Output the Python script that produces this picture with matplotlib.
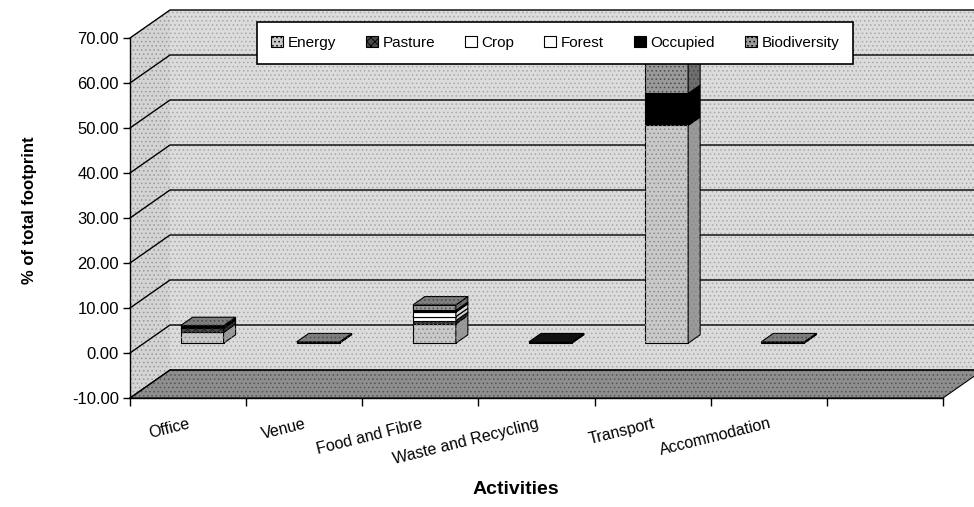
import matplotlib
matplotlib.use('Agg')
import matplotlib.pyplot as plt
from matplotlib.patches import Polygon, Patch
import numpy as np

plt.rcParams['font.family'] = ['Liberation Sans', 'DejaVu Sans']
plt.rcParams['hatch.linewidth'] = 0.6

# ---------------- data ----------------
categories = ['Office', 'Venue', 'Food and Fibre', 'Waste and Recycling',
              'Transport', 'Accommodation', '']
series_names = ['Energy', 'Pasture', 'Crop', 'Forest', 'Occupied', 'Biodiversity']
energy = [2.4, 0.2, 4.3, 0.0, 48.4, 0.2, 0.0]
pasture = [0.9, 0.0, 0.7, 0.0, 0.0, 0.0, 0.0]
crop = [0.2, 0.0, 0.9, 0.0, 0.0, 0.0, 0.0]
forest = [0.0, 0.0, 1.0, 0.0, 0.0, 0.0, 0.0]
occupied = [0.1, 0.0, 0.4, 0.3, 7.1, 0.0, 0.0]
biodiversity = [0.3, 0.1, 1.2, 0.0, 8.6, 0.1, 0.0]
y_ticks = [-10, 0, 10, 20, 30, 40, 50, 60, 70]
y_tick_labels = ['-10.00', '0.00', '10.00', '20.00', '30.00', '40.00',
                 '50.00', '60.00', '70.00']

series = [energy, pasture, crop, forest, occupied, biodiversity]
# (front, side, top, hatch, hatch colour)
styles = [
    ('#c9c9c9', '#9a9a9a', '#b4b4b4', '....', '#8a8a8a'),
    ('#4a4a4a', '#303030', '#3c3c3c', 'xxxx', '#1a1a1a'),
    ('#ffffff', '#cfcfcf', '#e6e6e6', None, None),
    ('#ffffff', '#d8d8d8', '#eeeeee', None, None),
    ('#000000', '#000000', '#111111', None, None),
    ('#9a9a9a', '#6e6e6e', '#7d7d7d', '....', '#4a4a4a'),
]

W, H = 974, 507
fig = plt.figure(figsize=(W / 100, H / 100), dpi=100)
ax = fig.add_axes([130 / W, (H - 398) / H, 813 / W, 360 / H])
n = len(categories)
ax.set_xlim(0, n)
ax.set_ylim(-10, 70)
ax.patch.set_visible(False)

# 3D depth offsets (in data units)
dx = 40 / (813 / n)
dy = 28 / 4.5


def hpoly(pts, fc, hatch=None, hc=None, z=0.5, ec='none', lw=0):
    ax.add_patch(Polygon(pts, closed=True, facecolor=fc, edgecolor=ec,
                         linewidth=lw, clip_on=False, zorder=z))
    if hatch:
        ax.add_patch(Polygon(pts, closed=True, fill=False, edgecolor=hc,
                             linewidth=0, hatch=hatch, clip_on=False, zorder=z + 0.01))


x0, x1 = 0, n
ymin, ymax = -10, 70
# back wall
hpoly([(x0 + dx, ymin + dy), (x1 + dx, ymin + dy), (x1 + dx, ymax + dy), (x0 + dx, ymax + dy)],
      '#dcdcdc', '....', '#a8a8a8', z=0.1)
# left side wall
hpoly([(x0, ymin), (x0, ymax), (x0 + dx, ymax + dy), (x0 + dx, ymin + dy)],
      '#d4d4d4', '....', '#999999', z=0.15)
# floor
hpoly([(x0, ymin), (x1, ymin), (x1 + dx, ymin + dy), (x0 + dx, ymin + dy)],
      '#8e8e8e', '....', '#555555', z=0.2, ec='black', lw=0.8)
# gridlines
for v in y_ticks:
    ax.plot([x0, x0 + dx, x1 + dx], [v, v + dy, v + dy], color='black', lw=1.0,
            clip_on=False, zorder=0.3)

# bars
w = 0.37
f0, f1 = 0.35, 0.65
ddx, ddy = (f1 - f0) * dx, (f1 - f0) * dy
vals = np.array(series)
cum = np.vstack([np.zeros(n), np.cumsum(vals, axis=0)])
for i in range(n):
    xl = i + 0.5 - w / 2 + f0 * dx
    nz = [k for k in range(len(series)) if vals[k, i] > 0]
    if not nz:
        continue
    for k in nz:
        b = cum[k, i] + f0 * dy
        t = cum[k + 1, i] + f0 * dy
        fc, sc, tc, hat, hc = styles[k]
        ax.bar(xl, t - b, bottom=b, width=w, align='edge', color=fc,
               edgecolor='black', linewidth=0.8, zorder=2)
        if hat:
            ax.bar(xl, t - b, bottom=b, width=w, align='edge', fill=False,
                   edgecolor=hc, linewidth=0, hatch=hat, zorder=2.01)
        hpoly([(xl + w, b), (xl + w + ddx, b + ddy), (xl + w + ddx, t + ddy), (xl + w, t)],
              sc, hat, hc, z=2, ec='black', lw=0.8)
    ktop = nz[-1]
    t = cum[ktop + 1, i] + f0 * dy
    fc, sc, tc, hat, hc = styles[ktop]
    hpoly([(xl, t), (xl + w, t), (xl + w + ddx, t + ddy), (xl + ddx, t + ddy)],
          tc, hat, hc, z=2.1, ec='black', lw=0.8)

# axes styling
for s in ['top', 'right']:
    ax.spines[s].set_visible(False)
for s in ['left', 'bottom']:
    ax.spines[s].set_color('black')
    ax.spines[s].set_linewidth(1.0)
    ax.spines[s].set_zorder(3)

ax.set_yticks(y_ticks)
ax.set_yticklabels(y_tick_labels, fontsize=12)
ax.tick_params(axis='y', direction='out', length=5, width=1, pad=3)

ax.set_xticks(np.arange(n + 1))
ax.set_xticklabels([])
ax.tick_params(axis='x', which='major', direction='out', length=6, width=1)
ax.set_xticks(np.arange(n) + 0.5, minor=True)
ax.set_xticklabels(categories, minor=True, fontsize=11.5, rotation=14,
                   ha='right', va='top', rotation_mode='anchor')
ax.tick_params(axis='x', which='minor', length=0, pad=13)

fig.text(30 / W, 1 - 210 / H, '% of total footprint', rotation=90, fontsize=12,
         fontweight='bold', ha='center', va='center')
fig.text(516 / W, 1 - 489 / H, 'Activities', fontsize=14, fontweight='bold',
         ha='center', va='center')

handles = []
for k, name in enumerate(series_names):
    fc, sc, tc, hat, hc = styles[k]
    handles.append(Patch(facecolor=fc, edgecolor='black', hatch=hat, linewidth=0.8, label=name))
leg = ax.legend(handles=handles, ncol=6, loc='upper center',
                bbox_to_anchor=(555 / W, 1 - 22 / H), bbox_transform=fig.transFigure,
                frameon=True, fancybox=False, framealpha=1, edgecolor='black',
                fontsize=11, handlelength=0.8, handleheight=0.8, handletextpad=0.3,
                columnspacing=1.95, borderpad=0.9, borderaxespad=0)
leg.get_frame().set_linewidth(1.2)
leg.set_zorder(10)

fig.savefig('out.png', dpi=100)
